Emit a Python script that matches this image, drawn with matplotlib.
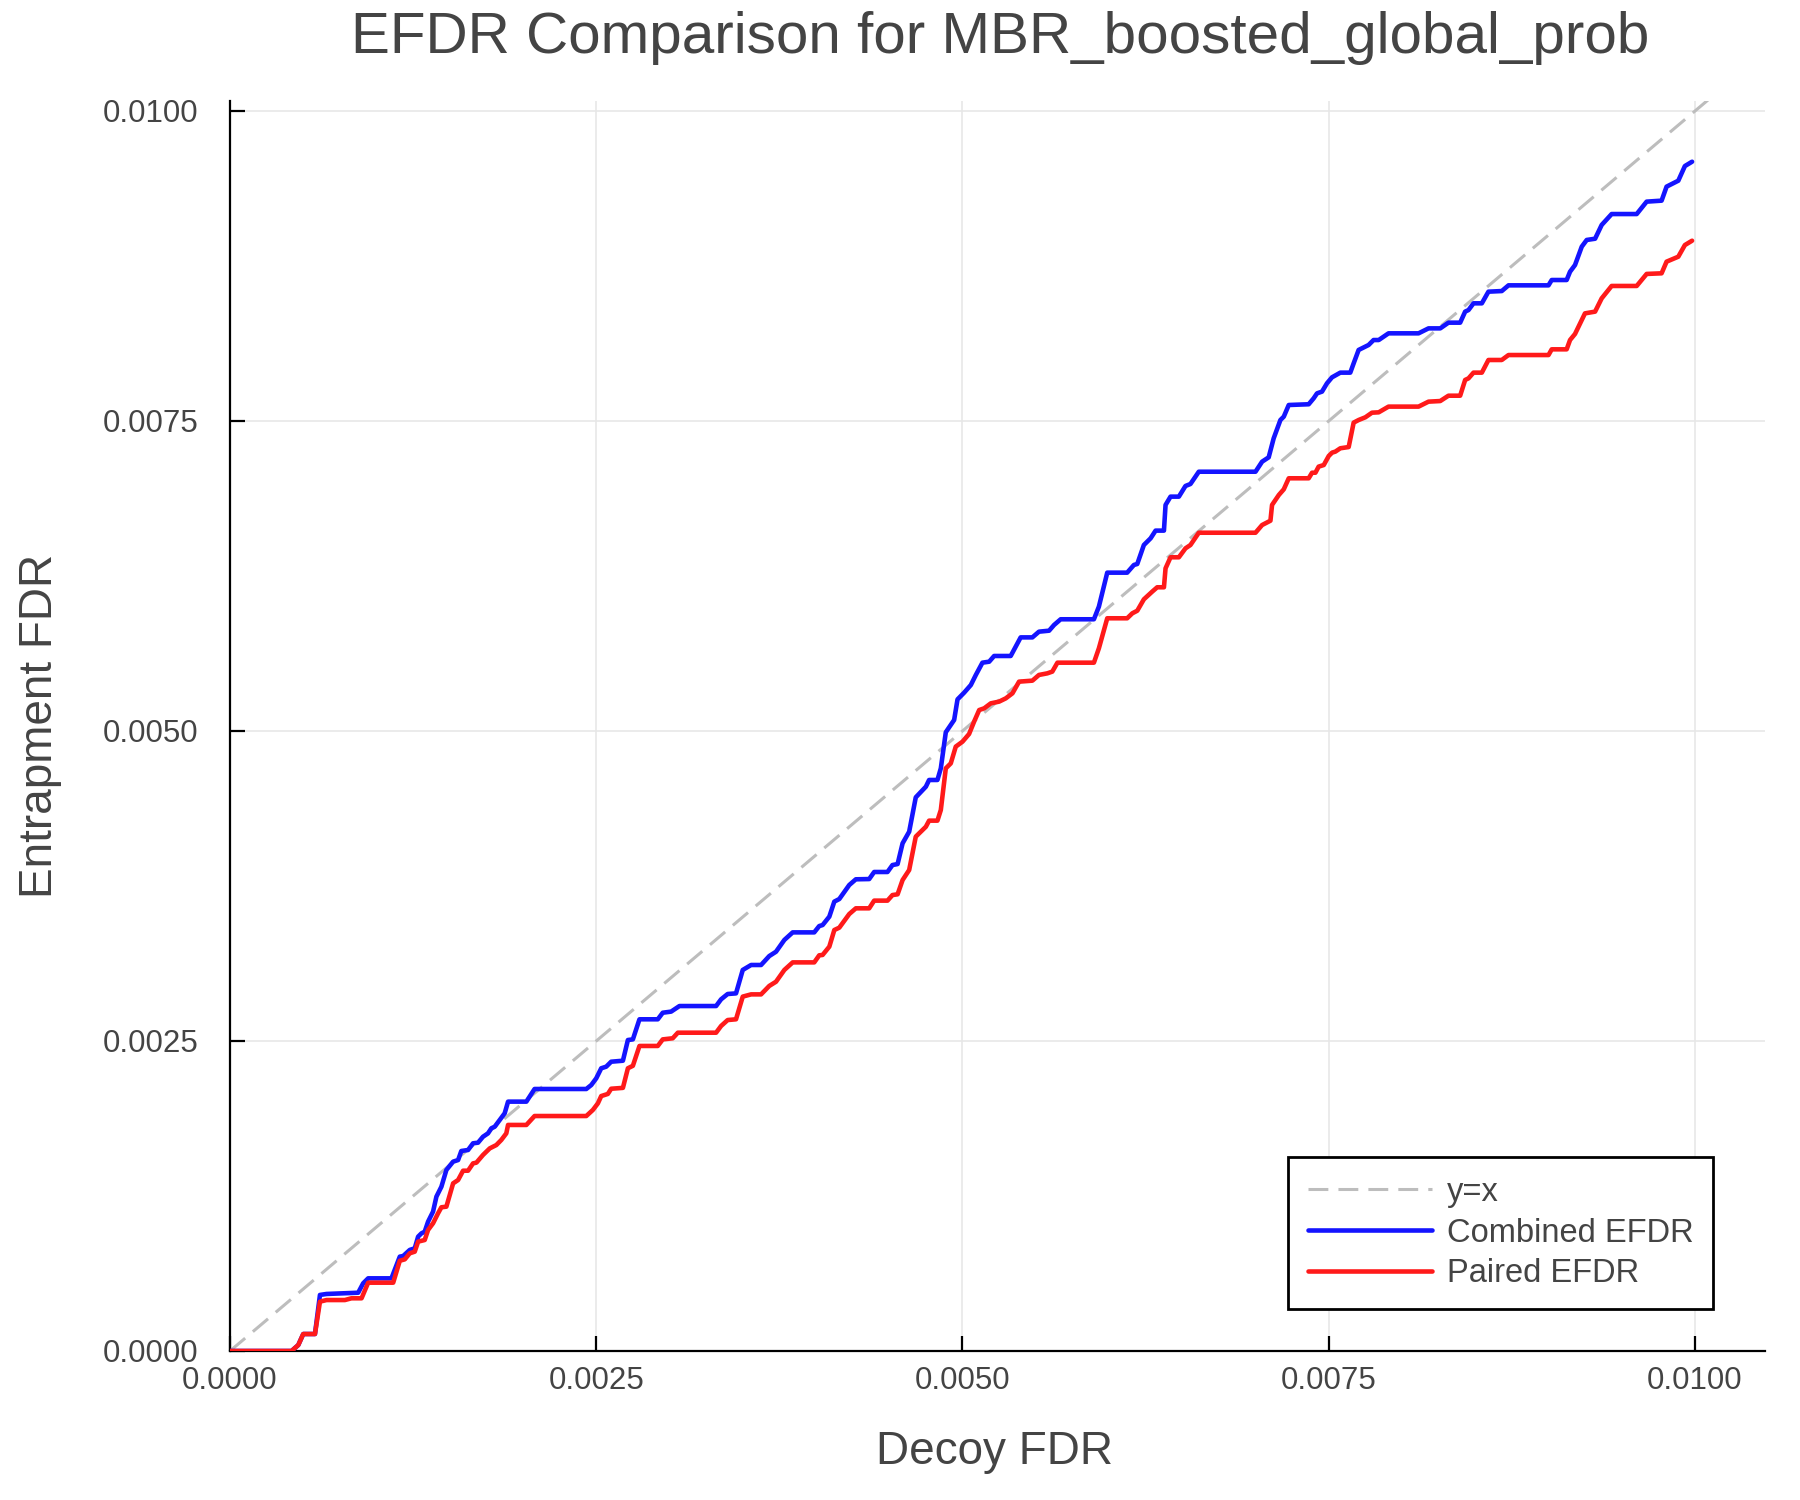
import matplotlib
matplotlib.use("Agg")
import matplotlib.pyplot as plt

plt.rcParams['font.family'] = ['Liberation Sans', 'DejaVu Sans']

title = "EFDR Comparison for MBR_boosted_global_prob"
xlabel = "Decoy FDR"
ylabel = "Entrapment FDR"
tick_values = [0.0, 0.0025, 0.005, 0.0075, 0.01]
tick_labels = ["0.0000", "0.0025", "0.0050", "0.0075", "0.0100"]

diag_x = [0.0, 0.0106]
diag_y = [0.0, 0.0106]

combined_x = [0, 0.000420, 0.000466, 0.000500, 0.000580, 0.000614, 0.000659, 0.000875, 0.000909, 0.000943,
              0.001102, 0.001159, 0.001182, 0.001227, 0.001261, 0.001284, 0.001307, 0.001329, 0.001352, 0.001386,
              0.001409, 0.001443, 0.001477, 0.001523, 0.001557, 0.001579, 0.001625, 0.001659, 0.001693, 0.001727,
              0.001761, 0.001784, 0.001807, 0.001841, 0.001875, 0.001898, 0.002023, 0.002079, 0.002432, 0.002466,
              0.002500, 0.002534, 0.002568, 0.002602, 0.002682, 0.002716, 0.002750, 0.002795, 0.002920, 0.002954,
              0.003011, 0.003068, 0.003318, 0.003352, 0.003397, 0.003454, 0.003500, 0.003557, 0.003625, 0.003681,
              0.003727, 0.003784, 0.003841, 0.003988, 0.004022, 0.004045, 0.004091, 0.004125, 0.004159, 0.004227,
              0.004272, 0.004363, 0.004397, 0.004488, 0.004522, 0.004557, 0.004591, 0.004636, 0.004681, 0.004750,
              0.004772, 0.004829, 0.004852, 0.004886, 0.004943, 0.004966, 0.005011, 0.005057, 0.005091, 0.005136,
              0.005182, 0.005216, 0.005329, 0.005363, 0.005397, 0.005477, 0.005522, 0.005591, 0.005625, 0.005670,
              0.005897, 0.005931, 0.005988, 0.006124, 0.006170, 0.006193, 0.006238, 0.006284, 0.006318, 0.006375,
              0.006386, 0.006420, 0.006477, 0.006522, 0.006556, 0.006613, 0.007000, 0.007045, 0.007090, 0.007124,
              0.007170, 0.007193, 0.007227, 0.007363, 0.007397, 0.007420, 0.007454, 0.007488, 0.007522, 0.007579,
              0.007647, 0.007670, 0.007704, 0.007772, 0.007806, 0.007841, 0.007908, 0.008113, 0.008181, 0.008261,
              0.008317, 0.008397, 0.008431, 0.008454, 0.008488, 0.008545, 0.008590, 0.008681, 0.008727, 0.009000,
              0.009022, 0.009124, 0.009147, 0.009181, 0.009227, 0.009261, 0.009318, 0.009363, 0.009431, 0.009602,
              0.009670, 0.009772, 0.009806, 0.009886, 0.009931, 0.009980]
combined_y = [0, 0, 0.000048, 0.000137, 0.000137, 0.000452, 0.000460, 0.000470, 0.000546, 0.000586,
              0.000586, 0.000761, 0.000766, 0.000815, 0.000828, 0.000922, 0.000949, 0.000962, 0.001043, 0.001124,
              0.001245, 0.001325, 0.001460, 0.001527, 0.001540, 0.001613, 0.001621, 0.001675, 0.001680, 0.001728,
              0.001755, 0.001796, 0.001809, 0.001863, 0.001917, 0.002011, 0.002011, 0.002113, 0.002113, 0.002145,
              0.002199, 0.002280, 0.002293, 0.002333, 0.002341, 0.002508, 0.002513, 0.002675, 0.002675, 0.002728,
              0.002737, 0.002782, 0.002782, 0.002836, 0.002879, 0.002884, 0.003073, 0.003113, 0.003113, 0.003185,
              0.003220, 0.003315, 0.003376, 0.003376, 0.003427, 0.003435, 0.003503, 0.003624, 0.003645, 0.003758,
              0.003804, 0.003806, 0.003863, 0.003863, 0.003919, 0.003927, 0.004094, 0.004188, 0.004465, 0.004551,
              0.004605, 0.004605, 0.004699, 0.004990, 0.005089, 0.005255, 0.005309, 0.005371, 0.005452, 0.005551,
              0.005559, 0.005605, 0.005605, 0.005680, 0.005755, 0.005755, 0.005801, 0.005809, 0.005855, 0.005901,
              0.005901, 0.006003, 0.006277, 0.006277, 0.006339, 0.006347, 0.006500, 0.006554, 0.006616, 0.006616,
              0.006823, 0.006890, 0.006890, 0.006976, 0.006992, 0.007091, 0.007091, 0.007172, 0.007207, 0.007360,
              0.007508, 0.007535, 0.007629, 0.007635, 0.007683, 0.007723, 0.007737, 0.007804, 0.007852, 0.007890,
              0.007890, 0.007965, 0.008073, 0.008113, 0.008153, 0.008153, 0.008207, 0.008207, 0.008247, 0.008247,
              0.008293, 0.008293, 0.008382, 0.008395, 0.008449, 0.008449, 0.008543, 0.008548, 0.008594, 0.008594,
              0.008637, 0.008637, 0.008704, 0.008758, 0.008906, 0.008960, 0.008970, 0.009081, 0.009169, 0.009169,
              0.009269, 0.009277, 0.009390, 0.009438, 0.009556, 0.009591]

paired_x = [0, 0.000420, 0.000466, 0.000500, 0.000580, 0.000614, 0.000659, 0.000784, 0.000829, 0.000898,
            0.000943, 0.001114, 0.001159, 0.001193, 0.001227, 0.001261, 0.001284, 0.001329, 0.001352, 0.001386,
            0.001420, 0.001443, 0.001477, 0.001523, 0.001557, 0.001591, 0.001625, 0.001659, 0.001682, 0.001727,
            0.001773, 0.001818, 0.001852, 0.001886, 0.001898, 0.002023, 0.002079, 0.002432, 0.002477, 0.002511,
            0.002534, 0.002579, 0.002602, 0.002682, 0.002716, 0.002750, 0.002795, 0.002920, 0.002954, 0.003022,
            0.003057, 0.003318, 0.003352, 0.003397, 0.003454, 0.003500, 0.003557, 0.003625, 0.003681, 0.003727,
            0.003784, 0.003841, 0.003988, 0.004022, 0.004045, 0.004091, 0.004125, 0.004159, 0.004227, 0.004272,
            0.004363, 0.004397, 0.004488, 0.004522, 0.004557, 0.004591, 0.004636, 0.004681, 0.004750, 0.004772,
            0.004829, 0.004852, 0.004886, 0.004920, 0.004954, 0.005000, 0.005045, 0.005079, 0.005114, 0.005148,
            0.005193, 0.005250, 0.005295, 0.005341, 0.005386, 0.005477, 0.005522, 0.005579, 0.005613, 0.005648,
            0.005897, 0.005931, 0.005988, 0.006124, 0.006159, 0.006193, 0.006238, 0.006295, 0.006329, 0.006375,
            0.006386, 0.006420, 0.006477, 0.006522, 0.006556, 0.006613, 0.007000, 0.007045, 0.007102, 0.007113,
            0.007159, 0.007193, 0.007227, 0.007363, 0.007386, 0.007409, 0.007431, 0.007466, 0.007500, 0.007523,
            0.007545, 0.007579, 0.007636, 0.007670, 0.007704, 0.007750, 0.007795, 0.007841, 0.007908, 0.008113,
            0.008181, 0.008261, 0.008317, 0.008397, 0.008431, 0.008454, 0.008488, 0.008545, 0.008590, 0.008681,
            0.008727, 0.009000, 0.009022, 0.009124, 0.009147, 0.009181, 0.009249, 0.009318, 0.009363, 0.009431,
            0.009602, 0.009670, 0.009772, 0.009806, 0.009886, 0.009931, 0.009980]
paired_y = [0, 0, 0.000048, 0.000137, 0.000137, 0.000398, 0.000411, 0.000411, 0.000425, 0.000425,
            0.000551, 0.000551, 0.000728, 0.000739, 0.000788, 0.000801, 0.000882, 0.000895, 0.000976, 0.001030,
            0.001110, 0.001159, 0.001164, 0.001352, 0.001379, 0.001454, 0.001454, 0.001513, 0.001519, 0.001581,
            0.001634, 0.001661, 0.001702, 0.001755, 0.001823, 0.001823, 0.001895, 0.001895, 0.001944, 0.001997,
            0.002056, 0.002073, 0.002115, 0.002122, 0.002280, 0.002300, 0.002460, 0.002460, 0.002513, 0.002522,
            0.002567, 0.002567, 0.002621, 0.002669, 0.002675, 0.002858, 0.002876, 0.002876, 0.002944, 0.002978,
            0.003073, 0.003134, 0.003134, 0.003191, 0.003194, 0.003261, 0.003395, 0.003414, 0.003524, 0.003570,
            0.003570, 0.003632, 0.003632, 0.003677, 0.003683, 0.003798, 0.003879, 0.004148, 0.004228, 0.004277,
            0.004277, 0.004363, 0.004699, 0.004739, 0.004874, 0.004914, 0.004976, 0.005075, 0.005169, 0.005183,
            0.005223, 0.005237, 0.005263, 0.005304, 0.005398, 0.005406, 0.005452, 0.005465, 0.005479, 0.005551,
            0.005551, 0.005667, 0.005909, 0.005909, 0.005949, 0.005970, 0.006062, 0.006124, 0.006159, 0.006159,
            0.006312, 0.006401, 0.006401, 0.006473, 0.006500, 0.006599, 0.006599, 0.006661, 0.006696, 0.006823,
            0.006903, 0.006949, 0.007038, 0.007038, 0.007083, 0.007083, 0.007132, 0.007145, 0.007218, 0.007245,
            0.007253, 0.007280, 0.007290, 0.007487, 0.007508, 0.007530, 0.007567, 0.007570, 0.007616, 0.007616,
            0.007656, 0.007661, 0.007704, 0.007704, 0.007831, 0.007844, 0.007890, 0.007890, 0.007992, 0.007992,
            0.008032, 0.008032, 0.008078, 0.008078, 0.008153, 0.008202, 0.008368, 0.008382, 0.008489, 0.008589,
            0.008589, 0.008686, 0.008691, 0.008785, 0.008825, 0.008919, 0.008954]

W, H = 1800, 1500
fig = plt.figure(figsize=(18, 15), dpi=100)
left, right, bottom, top = 230, 1765, 1351, 101
ax = fig.add_axes([left / W, 1 - bottom / H, (right - left) / W, (bottom - top) / H])

text_color = '#444444'

ax.plot(diag_x, diag_y, color='#bdbdbd', lw=2.2, dashes=(6.5, 3.3), label='y=x', zorder=2)
ax.plot(combined_x, combined_y, color='#1414ff', lw=3.3, label='Combined EFDR', zorder=3,
        solid_joinstyle='round', solid_capstyle='round')
ax.plot(paired_x, paired_y, color='#ff1a1a', lw=3.3, label='Paired EFDR', zorder=3,
        solid_joinstyle='round', solid_capstyle='round')

ax.set_xlim(0, (right - left) / 146500)
ax.set_ylim(0, (bottom - top) / 124000)

ax.set_xticks(tick_values)
ax.set_xticklabels(tick_labels)
ax.set_yticks(tick_values)
ax.set_yticklabels(tick_labels)

ax.grid(True, color='#e6e6e6', lw=1.1, zorder=0)
for s in ['top', 'right']:
    ax.spines[s].set_visible(False)
for s in ['left', 'bottom']:
    ax.spines[s].set_linewidth(1.6)
    ax.spines[s].set_color('black')

ax.tick_params(axis='both', direction='in', length=11, width=1.6, colors='black',
               labelsize=22.5, labelcolor=text_color)
ax.tick_params(axis='x', pad=11)
ax.tick_params(axis='y', pad=23)

ax.set_xlabel(xlabel, fontsize=33, color=text_color, va='center')
ax.set_ylabel(ylabel, fontsize=33, color=text_color, va='center')
ax.xaxis.set_label_coords((994 - left) / (right - left), -(1452 - bottom) / (bottom - top))
ax.yaxis.set_label_coords((40 - left) / (right - left), 0.5)

fig.text(1000 / W, 1 - 53 / H, title, fontsize=42, color=text_color,
         ha='center', va='baseline')

leg = ax.legend(loc='lower right', bbox_to_anchor=(1713 / W, 1 - 1309 / H),
                bbox_transform=fig.transFigure, fontsize=23.5, frameon=True, fancybox=False,
                borderaxespad=0, borderpad=0.6, labelspacing=0.3, handlelength=3.8,
                handletextpad=0.45)
frame = leg.get_frame()
frame.set_edgecolor('black')
frame.set_linewidth(2.0)
frame.set_alpha(1)
for t in leg.get_texts():
    t.set_color(text_color)

fig.savefig('out.png', dpi=100, facecolor='white')
